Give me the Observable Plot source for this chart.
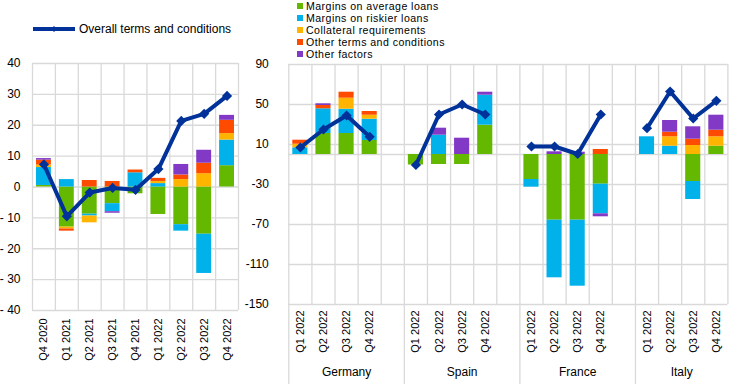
<!DOCTYPE html>
<html>
<head>
<meta charset="utf-8">
<script src="https://cdn.jsdelivr.net/npm/d3@7"></script>
<script src="https://cdn.jsdelivr.net/npm/@observablehq/plot@0.6"></script>
<style>
  body { margin: 0; background: #fff; }
  #chart { position: relative; width: 744px; height: 384px; overflow: hidden;
           font-family: "Liberation Sans", Arial, sans-serif; color: #000; background: #fff; }
  #chart > * { position: absolute; }
  .leg { font-size: 12px; line-height: 12px; white-space: nowrap; }
  .row { position: absolute; left: 0; white-space: nowrap; font-size: 10.6px; letter-spacing: 0.45px; line-height: 12px; height: 12px; }
  .sw { display: inline-block; width: 6px; height: 6px; margin-right: 3px; vertical-align: 1px; }
</style>
</head>
<body>
<div id="chart"></div>
<script>
// ---------- data ----------
const seriesNames = ["Margins on average loans", "Margins on riskier loans", "Collateral requirements",
                     "Other terms and conditions", "Other factors"];
const seriesColors = ["#65B800", "#00B1EA", "#FFB400", "#FF4B00", "#8139C6"];
const overallName = "Overall terms and conditions";
const overallColor = "#003299";

// Euro area panel
const euroQuarters = ["Q4 2020", "Q1 2021", "Q2 2021", "Q3 2021", "Q4 2021", "Q1 2022", "Q2 2022", "Q3 2022", "Q4 2022"];
const euroAvgMargins     = [0.5, -13.0, -8.8, -5.4, -2.2, -8.9, -12.2, -15.3, 6.9];
const euroRiskierMargins = [5.8, 2.4, -0.6, -2.6, 4.6, 1.1, -2.1, -12.7, 8.3];
const euroCollateral     = [0.8, -0.6, -2.2, 0, 0, 0.7, 2.4, 4.3, 2.1];
const euroOtherTerms     = [1.6, -0.7, 2.1, 1.8, 0.9, 1.0, 1.5, 3.4, 4.3];
const euroOtherFactors   = [0.5, 0, 0, -0.5, 0, 0, 3.4, 4.2, 1.6];
const euroOverall        = [7.3, -9.5, -1.8, -0.3, -0.9, 5.8, 21.4, 23.7, 29.5];
const euroYTicks = [-40, -30, -20, -10, 0, 10, 20, 30, 40];

// Country panel (Germany, Spain, France, Italy; Q1-Q4 2022 each)
const countries = ["Germany", "Spain", "France", "Italy"];
const countryQuarters = ["Q1 2022", "Q2 2022", "Q3 2022", "Q4 2022"];
const ctyAvgMargins     = [0, 21, 21, 14,   -10.5, -10, -10, 29.3,   -25, -65.7, -65.7, -29.7,   0, 0, -27, 8.3];
const ctyRiskierMargins = [6.7, 24.7, 24.3, 21.3,   0, 19.3, 0, 30,   -7.7, -57.6, -66, -29.6,   17.7, 8.3, -18, 0];
const ctyCollateral     = [3.6, 0, 11, 4,   0, 0, 0, 0,   0, 0, 0, 0,   0, 9.4, 9, 9.4];
const ctyOtherTerms     = [4, 3.3, 6, 3.7,   0, 0, 0, 0,   0, 0, 0, 5,   0, 4.6, 6.3, 6.6];
const ctyOtherFactors   = [0, 1.7, 0, 0,   0, 7, 16.3, 3,   0, 2.7, 2.3, -3,   0, 11.7, 12.4, 15];
const ctyOverall        = [7, 25, 39, 17.7,   -10.5, 40, 50, 40,   8, 8, 0.5, 40,   26.3, 63, 36, 53.7];
const ctyYTicks = [-150, -110, -70, -30, 10, 50, 90];

// ---------- build tables ----------
const gridColor = "#d9d9d9";
const font = '"Liberation Sans", Arial, sans-serif';
const chart = document.getElementById("chart");

const euroSeries = [euroAvgMargins, euroRiskierMargins, euroCollateral, euroOtherTerms, euroOtherFactors];
const euroRows = [];
euroSeries.forEach((vals, s) => vals.forEach((v, i) => euroRows.push({i, series: seriesNames[s], value: v})));
const euroLine = euroOverall.map((v, i) => ({i, value: v}));

const perGroup = countryQuarters.length + 1;             // 4 quarters + 1 blank slot
const nSlots = countries.length * perGroup - 1;           // 19
const slotOf = k => Math.floor(k / countryQuarters.length) * perGroup + (k % countryQuarters.length);
const ctySeries = [ctyAvgMargins, ctyRiskierMargins, ctyCollateral, ctyOtherTerms, ctyOtherFactors];
const ctyRows = [];
ctySeries.forEach((vals, s) => vals.forEach((v, k) => ctyRows.push({i: slotOf(k), series: seriesNames[s], value: v})));
const ctyLine = ctyOverall.map((v, k) => ({i: slotOf(k), country: countries[Math.floor(k / countryQuarters.length)], value: v}));
const ctyTickSlots = ctyOverall.map((v, k) => slotOf(k));
const ctyTickLabel = new Map(ctyOverall.map((v, k) => [slotOf(k) + 0.5, countryQuarters[k % countryQuarters.length]]));
const groups = countries.map((c, ci) => ({country: c, start: ci * perGroup, end: Math.min(ci * perGroup + perGroup, nSlots)}));

const style = {fontFamily: font, fontSize: "12px", color: "#000", background: "transparent", overflow: "visible"};

// ---------- left panel ----------
const left = Plot.plot({
  width: 245, height: 384,
  marginLeft: 32, marginRight: 7, marginTop: 63, marginBottom: 74,
  style,
  x: {domain: [0, euroQuarters.length], axis: null},
  y: {domain: [-40, 40], axis: null},
  color: {domain: seriesNames, range: seriesColors},
  marks: [
    Plot.ruleX(d3.range(euroQuarters.length + 1), {stroke: gridColor, strokeWidth: 1.3}),
    Plot.ruleY(euroYTicks, {stroke: gridColor, strokeWidth: 1.3}),
    Plot.rectY(euroRows, {x: "i", interval: 1, y: "value", fill: "series", insetLeft: 4, insetRight: 4}),
    Plot.line(euroLine, {x: d => d.i + 0.5, y: "value", stroke: overallColor, strokeWidth: 4}),
    Plot.dot(euroLine, {x: d => d.i + 0.5, y: "value", symbol: "diamond2", r: 4.6, fill: overallColor}),
    Plot.axisY(euroYTicks, {label: null, tickSize: 0, tickPadding: 12, fontSize: 12,
      tickFormat: d => d < 0 ? "- " + (-d) : String(d)}),
    Plot.axisX(euroQuarters.map((q, i) => i + 0.5), {label: null, tickSize: 0, tickPadding: 8, tickRotate: -90, fontSize: 11,
      tickFormat: t => euroQuarters[Math.floor(t)]})
  ]
});
left.style.left = "0px"; left.style.top = "0px";
chart.appendChild(left);

// ---------- right panel ----------
const RW = 499, RML = 43.3, RMR = 16.6;
const right = Plot.plot({
  width: RW, height: 384,
  marginLeft: RML, marginRight: RMR, marginTop: 64, marginBottom: 80,
  style,
  x: {domain: [0, nSlots], axis: null},
  y: {domain: [-150, 90], axis: null},
  color: {domain: seriesNames, range: seriesColors},
  marks: [
    Plot.ruleX(d3.range(nSlots + 1), {stroke: gridColor, strokeWidth: 1.3}),
    Plot.ruleY(ctyYTicks, {stroke: gridColor, strokeWidth: 1.3}),
    Plot.ruleY([0], {stroke: gridColor, strokeWidth: 1.3}),
    Plot.rectY(ctyRows, {x: "i", interval: 1, y: "value", fill: "series", insetLeft: 4, insetRight: 4}),
    Plot.line(ctyLine, {x: d => d.i + 0.5, y: "value", z: "country", stroke: overallColor, strokeWidth: 4}),
    Plot.dot(ctyLine, {x: d => d.i + 0.5, y: "value", symbol: "diamond2", r: 4.6, fill: overallColor}),
    Plot.axisY(ctyYTicks, {label: null, tickSize: 0, tickPadding: 20, fontSize: 12, tickFormat: d => String(d)}),
    Plot.axisX(ctyTickSlots.map(i => i + 0.5), {label: null, tickSize: 0, tickPadding: 6, tickRotate: -90, fontSize: 11,
      tickFormat: t => ctyTickLabel.get(t)})
  ]
});
right.style.left = "245px"; right.style.top = "0px";
chart.appendChild(right);

// group label strip below the country panel
const strip = Plot.plot({
  width: RW, height: 80,
  marginLeft: RML, marginRight: RMR, marginTop: 0, marginBottom: 0,
  style,
  x: {domain: [0, nSlots], axis: null},
  y: {axis: null},
  marks: [
    Plot.ruleX(groups, {x: "start", stroke: gridColor, strokeWidth: 1.3}),
    Plot.text(groups, {x: d => (d.start + d.end) / 2, text: "country", frameAnchor: "bottom", dy: -9, fontSize: 12, fill: "#000"})
  ]
});
strip.style.left = "245px"; strip.style.top = "304px";
chart.appendChild(strip);

// ---------- legends ----------
const legL = document.createElement("div");
legL.className = "leg";
legL.style.left = "32px"; legL.style.top = "23px";
legL.innerHTML = `<svg width="44" height="12" style="vertical-align:-2px;margin-right:3px">
  <line x1="1" y1="6" x2="43" y2="6" stroke="${overallColor}" stroke-width="4"/>
  <path d="M22,3 L25,6 L22,9 L19,6 Z" fill="${overallColor}"/></svg>${overallName}`;
chart.appendChild(legL);

const legR = document.createElement("div");
legR.className = "leg";
legR.style.left = "297px"; legR.style.top = "0px";
legR.innerHTML = seriesNames.map((n, k) =>
  `<div class="row" style="top:${k * 12.1}px"><span class="sw" style="background:${seriesColors[k]}"></span>${n}</div>`).join("");
chart.appendChild(legR);
</script>
</body>
</html>
